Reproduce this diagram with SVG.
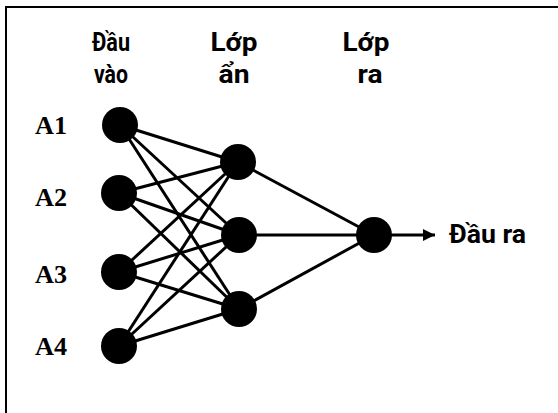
<svg xmlns="http://www.w3.org/2000/svg" width="558" height="413" viewBox="0 0 558 413">
<style>
.hdr{font-family:Roboto,"Noto Sans","Liberation Sans",sans-serif;font-weight:bold;font-size:25px;fill:#000;text-anchor:middle}
.lbl{font-family:"Liberation Serif","Times New Roman",serif;font-weight:bold;font-size:26px;fill:#000}
.edge{stroke:#000;stroke-width:3;fill:none}
.node{fill:#000}
</style>
<defs>
<marker id="arr" viewBox="0 0 10 10" refX="10" refY="5" markerWidth="4" markerHeight="4" orient="auto" markerUnits="strokeWidth">
<path d="M0,0 L10,5 L0,10 z" fill="#000"/>
</marker>
</defs>
<rect width="558" height="413" fill="#fff"/>
<polyline points="6,413 6,7 558,7" fill="none" stroke="#000" stroke-width="2"/>
<g id="headers">
<text class="hdr" x="111" y="51" textLength="38" lengthAdjust="spacingAndGlyphs">Đầu</text>
<text class="hdr" x="111" y="83" textLength="34" lengthAdjust="spacingAndGlyphs">vào</text>
<text class="hdr" x="234" y="51" textLength="47" lengthAdjust="spacingAndGlyphs">Lớp</text>
<text class="hdr" x="234" y="83" textLength="31" lengthAdjust="spacingAndGlyphs">ẩn</text>
<text class="hdr" x="366" y="51" textLength="47" lengthAdjust="spacingAndGlyphs">Lớp</text>
<text class="hdr" x="370" y="83" textLength="25" lengthAdjust="spacingAndGlyphs">ra</text>
</g>
<g id="connectors">
<line class="edge" x1="120" y1="125" x2="238" y2="162"/>
<line class="edge" x1="120" y1="125" x2="239" y2="235"/>
<line class="edge" x1="120" y1="125" x2="239" y2="309"/>
<line class="edge" x1="119" y1="193" x2="238" y2="162"/>
<line class="edge" x1="119" y1="193" x2="239" y2="235"/>
<line class="edge" x1="119" y1="193" x2="239" y2="309"/>
<line class="edge" x1="119" y1="272" x2="238" y2="162"/>
<line class="edge" x1="119" y1="272" x2="239" y2="235"/>
<line class="edge" x1="119" y1="272" x2="239" y2="309"/>
<line class="edge" x1="119" y1="346" x2="238" y2="162"/>
<line class="edge" x1="119" y1="346" x2="239" y2="235"/>
<line class="edge" x1="119" y1="346" x2="239" y2="309"/>
<line class="edge" x1="238" y1="162" x2="374" y2="235"/>
<line class="edge" x1="239" y1="235" x2="374" y2="235"/>
<line class="edge" x1="239" y1="309" x2="374" y2="235"/>
<line class="edge" x1="374" y1="235" x2="435" y2="235" marker-end="url(#arr)"/>
</g>
<g id="A1"><circle class="node" cx="120" cy="125" r="18"/><text class="lbl" x="35" y="134" textLength="32" lengthAdjust="spacingAndGlyphs">A1</text></g>
<g id="A2"><circle class="node" cx="119" cy="193" r="18"/><text class="lbl" x="35" y="206" textLength="32" lengthAdjust="spacingAndGlyphs">A2</text></g>
<g id="A3"><circle class="node" cx="119" cy="272" r="18"/><text class="lbl" x="35" y="283" textLength="32" lengthAdjust="spacingAndGlyphs">A3</text></g>
<g id="A4"><circle class="node" cx="119" cy="346" r="18"/><text class="lbl" x="35" y="355" textLength="32" lengthAdjust="spacingAndGlyphs">A4</text></g>
<g id="H1"><circle class="node" cx="238" cy="162" r="18"/></g>
<g id="H2"><circle class="node" cx="239" cy="235" r="18"/></g>
<g id="H3"><circle class="node" cx="239" cy="309" r="18"/></g>
<g id="O1"><circle class="node" cx="374" cy="235" r="18"/><text class="hdr" x="449" y="243" textLength="77" lengthAdjust="spacingAndGlyphs" style="text-anchor:start">Đầu ra</text></g>
</svg>
